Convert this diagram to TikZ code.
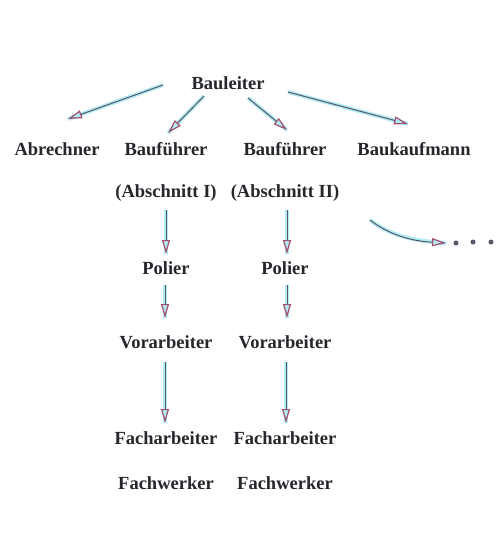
\documentclass[tikz,border=0pt]{standalone}
\usepackage{fontspec}
\setmainfont{Liberation Serif}
\usetikzlibrary{arrows.meta}
\definecolor{txt}{HTML}{26262C}
\definecolor{linec}{HTML}{5A5566}
\definecolor{tipc}{HTML}{A0506E}
\definecolor{halo}{HTML}{B0ECF4}
\tikzset{
  lbl/.style={font=\fontsize{18.5}{20}\selectfont\bfseries, text=txt, inner sep=0pt},
  arr/.style={draw=linec, line width=1pt,
    preaction={draw=halo, line width=4pt, -{}},
    -{Triangle[open,length=14pt,width=8pt,color=tipc,line width=1.2pt]}},
  dot/.style={circle, fill=linec, inner sep=0pt, minimum size=5pt}
}
\begin{document}
\begin{tikzpicture}[x=1pt,y=-1pt]
\fill[white] (0,0) rectangle (500,533);
\useasboundingbox (0,0) rectangle (500,533);
% nodes
\node[lbl] (bl) at (228,83) {Bauleiter};
\node[lbl] (ab) at (57,149) {Abrechner};
\node[lbl] (bf1) at (166,149) {Bauführer};
\node[lbl] (bf2) at (285,149) {Bauführer};
\node[lbl] (bk) at (414,149) {Baukaufmann};
\node[lbl] (as1) at (166,193) {(Abschnitt I)};
\node[lbl] (as2) at (285,193) {(Abschnitt II)};
\node[lbl] (po1) at (166,268) {Polier};
\node[lbl] (po2) at (285,268) {Polier};
\node[lbl] (va1) at (166,342) {Vorarbeiter};
\node[lbl] (va2) at (285,342) {Vorarbeiter};
\node[lbl] (fa1) at (166,438) {Facharbeiter};
\node[lbl] (fa2) at (285,438) {Facharbeiter};
\node[lbl] (fw1) at (166,483) {Fachwerker};
\node[lbl] (fw2) at (285,483) {Fachwerker};
% arrow end points
\coordinate (s1) at (163,85);  \coordinate (e1) at (68,119);
\coordinate (s2) at (204,96);  \coordinate (e2) at (168,133);
\coordinate (s3) at (248,98);  \coordinate (e3) at (287,130);
\coordinate (s4) at (288,92);  \coordinate (e4) at (408,124);
\coordinate (s5) at (370,220); \coordinate (e5) at (446,243);
% top arrows
\draw[arr] (s1) -- (e1);
\draw[arr] (s2) -- (e2);
\draw[arr] (s3) -- (e3);
\draw[arr] (s4) -- (e4);
% vertical arrows
\draw[arr] (166,210) -- (166,254);
\draw[arr] (287,210) -- (287,254);
\draw[arr] (165,285) -- (165,318);
\draw[arr] (287,285) -- (287,318);
\draw[arr] (165,362) -- (165,423);
\draw[arr] (286,362) -- (286,423);
% continuation
\draw[arr] (s5) .. controls (388,234) and (410,241) .. (e5);
\node[dot] (d1) at (456,243) {};
\node[dot] (d2) at (473,242) {};
\node[dot] (d3) at (491,242) {};
\end{tikzpicture}
\end{document}
